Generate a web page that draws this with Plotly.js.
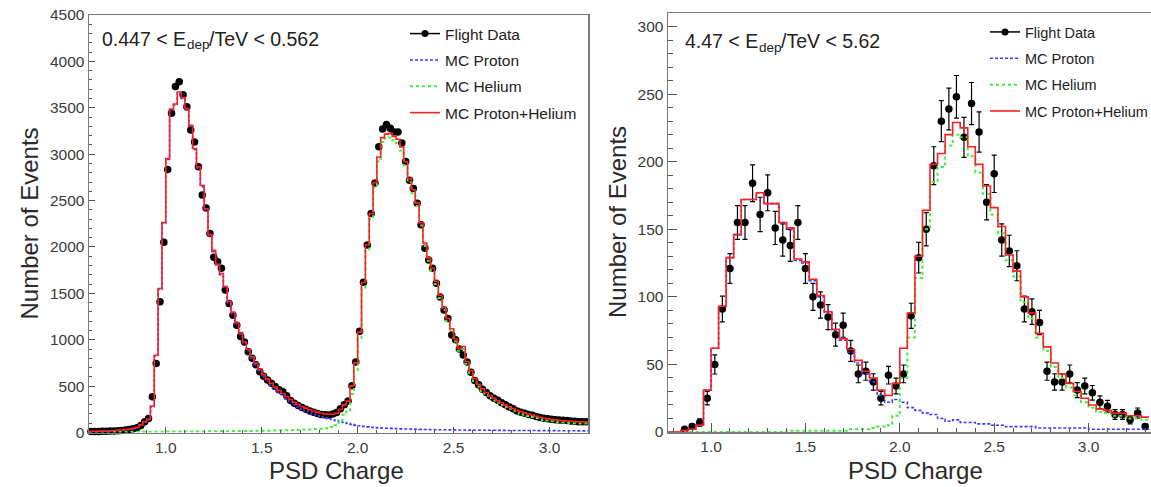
<!DOCTYPE html>
<html><head><meta charset="utf-8">
<script src="https://cdn.plot.ly/plotly-3.0.1.min.js"></script>
<style>html,body{margin:0;padding:0;overflow:hidden;background:#fff}#chart{width:1162px;height:487px}</style>
</head><body><div id="chart"></div>
<script>
// ---------- data ----------
const leftBinStart = 0.60, leftBinWidth = 0.02;
const leftFlightData = [10,11,12,13,14,15,17,19,22,26,
 32,40,52,75,116,150,386,745,1410,2050,
 2836,3440,3730,3780,3640,3510,3260,3130,2865,2560,
 2420,2145,1890,1840,1770,1535,1390,1265,1155,1035,
 975,870,800,730,655,605,565,530,495,460,
 440,395,345,315,290,270,250,232,218,205,
 195,190,188,200,215,255,300,340,505,760,
 1090,1620,2020,2360,2690,3080,3270,3320,3280,3240,
 3240,3120,2920,2720,2630,2470,2240,1985,1860,1770,
 1610,1460,1320,1230,1050,1000,900,835,760,650,
 560,515,465,430,395,370,348,320,298,275,
 255,232,218,207,195,185,173,163,154,147,
 142,138,135,133,128,124,120,117,116,115];
const leftMcProton = [9,10,11,12,13,14,16,18,21,25,
 30,38,50,75,110,135,278,824,1543,2254,
 2944,3475,3530,3660,3600,3480,3300,3050,2850,2650,
 2400,2120,1950,1800,1700,1560,1400,1280,1170,1060,
 960,880,800,730,665,605,555,510,470,432,
 398,362,330,300,275,252,232,213,197,183,
 170,158,148,138,128,118,108,98,88,80,
 72,66,61,57,53,50,48,46,44,42,
 40,39,38,37,36,35,34,33,32,31,
 30,30,29,29,28,28,27,27,26,26,
 25,25,25,24,24,24,23,23,23,22,
 22,22,22,21,21,21,21,20,20,20,
 20,20,19,19,19,19,19,18,18,18];
const leftMcHelium = [3,3,4,4,4,5,5,5,6,6,
 6,7,7,7,8,8,8,9,9,9,
 10,10,10,10,11,11,11,11,12,12,
 12,13,13,13,14,14,14,15,15,16,
 16,17,17,18,18,19,20,20,21,22,
 23,24,25,26,28,29,31,33,35,37,
 40,43,48,58,78,130,190,240,415,670,
 1010,1550,1960,2300,2640,2920,3130,3170,3180,3150,
 3120,3040,2880,2700,2580,2440,2230,2010,1850,1740,
 1600,1450,1320,1200,1090,980,880,900,740,640,
 555,495,445,405,372,345,320,297,275,255,
 236,218,203,190,178,166,155,145,136,128,
 121,116,112,108,105,102,100,98,97,96];

const rightBinStart = 0.76, rightBinWidth = 0.04;
const rightFlightData = [null,null,2,4,7,25,50,91,121,155,155,
 184,161,177,151,142,138,155,121,100,94,
 85,72,79,60,43,45,37,25,42,34,
 43,86,129,150,197,230,239,248,218,243,
 222,170,191,142,134,123,91,89,81,45,
 37,37,43,31,34,29,22,19,13,13,
 9,14,4];
const rightMcProton = [0,0,1,2,5,31,62,93,129,146,172,
 172,177,169,169,155,150,127,125,112,100,
 88,75,68,59,51,43,37,27,22,24,
 22,18,16,14,13,10,8,9,7,7,
 6,6,5,5,4,4,4,4,3,3,
 3,3,3,3,3,2,2,2,2,2,
 2,2,2];
const rightMcHelium = [0,0,0,0,0,0,0,0,0,0,0,
 0,0,0,0,0,1,1,1,1,1,
 1,1,1,2,2,2,3,4,5,12,
 40,70,114,150,185,196,212,220,218,204,
 192,176,161,147,127,115,96,84,70,60,
 48,40,33,27,22,18,15,14,12,12,
 10,10,9];

// energy-range labels: [text before subscript, subscript, text after subscript]
const leftLabelParts = ['0.447 < E', 'dep', '/TeV < 0.562'];
const rightLabelParts = ['4.47 < E', 'dep', '/TeV < 5.62'];
const legendNames = ['Flight Data', 'MC Proton', 'MC Helium', 'MC Proton+Helium'];
const xTitleText = 'PSD Charge';
const yTitleText = 'Number of Events';
const leftXRange = [0.6, 3.2], leftYRange = [0, 4500];
const rightXRange = [0.772, 3.389], rightYRange = [0, 310];

// ---------- helpers ----------
function binCenters(start, w, n) { const c = []; for (let i = 0; i < n; i++) c.push(+(start + w * (i + 0.5)).toFixed(4)); return c; }
function binEdges(start, w, n) { const e = []; for (let i = 0; i <= n; i++) e.push(+(start + w * i).toFixed(4)); return e; }
function stepVals(v) { return v.concat([v[v.length - 1]]); }
function sum(a, b) { return a.map((v, i) => v + b[i]); }

const FONT = 'Liberation Sans, Arial, Helvetica, sans-serif';
const W = 1162, H = 487;
const RED = '#ff1f1f', BLUE = '#3a3aff', GREEN = '#3cf03c';

function panelTraces(start, w, data, prot, hel, xa, ya, legendId, withErr, msize) {
  const n = data.length;
  const xc = binCenters(start, w, n);
  const xe = binEdges(start, w, n);
  const total = sum(prot, hel);
  const tr = [];
  tr.push({x: [null], y: [null], xaxis: xa, yaxis: ya, type: 'scatter', mode: 'lines+markers',
    name: legendNames[0], legend: legendId, legendgroup: legendId + 'a',
    line: {color: '#000', width: 1.5}, marker: {color: '#000', size: 7}});
  const d = {x: xc, y: data, xaxis: xa, yaxis: ya, type: 'scatter', mode: 'markers', showlegend: false,
    cliponaxis: false, marker: {color: '#000', size: msize}};
  if (withErr) d.error_y = {type: 'data', array: data.map(v => v == null ? null : Math.sqrt(v)), color: '#000', thickness: 1.2, width: 2.5};
  tr.push(d);
  tr.push({x: xe, y: stepVals(prot), xaxis: xa, yaxis: ya, type: 'scatter', mode: 'lines', name: legendNames[1],
    legend: legendId, legendgroup: legendId + 'b', line: {color: BLUE, width: 1.6, dash: '3px,2px', shape: 'hv'}});
  tr.push({x: xe, y: stepVals(hel), xaxis: xa, yaxis: ya, type: 'scatter', mode: 'lines', name: legendNames[2],
    legend: legendId, legendgroup: legendId + 'c', line: {color: GREEN, width: 2, dash: '3px,3px', shape: 'hv'}});
  tr.push({x: xe, y: stepVals(total), xaxis: xa, yaxis: ya, type: 'scatter', mode: 'lines', name: legendNames[3],
    legend: legendId, legendgroup: legendId + 'd', line: {color: RED, width: 1.6, shape: 'hv'}});
  return tr;
}

const traces = [].concat(
  panelTraces(leftBinStart, leftBinWidth, leftFlightData, leftMcProton, leftMcHelium, 'x', 'y', 'legend', false, 7.5),
  panelTraces(rightBinStart, rightBinWidth, rightFlightData, rightMcProton, rightMcHelium, 'x2', 'y2', 'legend2', true, 7.5)
);

function axisStyle(extra) {
  return Object.assign({
    showline: true, mirror: true, linecolor: '#7a7a7a', linewidth: 1.5,
    ticks: 'inside', tickcolor: '#555', tickwidth: 1, showgrid: false, zeroline: false,
    tickfont: {family: FONT, size: 15.5, color: '#3a3a3a'}, fixedrange: true
  }, extra);
}
const px = v => v / W, py = v => (H - v) / H;

// text measurement for composing the subscripted label
const mctx = document.createElement('canvas').getContext('2d');
function textWidth(t, size) { mctx.font = size + 'px "Liberation Sans", Arial, sans-serif'; return mctx.measureText(t).width; }
const LBL = 19.5, SUB = 13.5;
function rangeLabel(parts, x0, yc) {
  const w0 = textWidth(parts[0], LBL), w1 = textWidth(parts[1], SUB);
  const base = {xref: 'paper', yref: 'paper', xanchor: 'left', yanchor: 'middle', showarrow: false, borderpad: 0};
  return [
    Object.assign({text: parts[0], x: px(x0), y: py(yc), font: {family: FONT, size: LBL, color: '#222'}}, base),
    Object.assign({text: parts[1], x: px(x0 + w0 + 0.5), y: py(yc + 6), font: {family: FONT, size: SUB, color: '#222'}}, base),
    Object.assign({text: parts[2], x: px(x0 + w0 + w1 + 0.5), y: py(yc), font: {family: FONT, size: LBL, color: '#222'}}, base)
  ];
}

const legendBase = {xanchor: 'left', yanchor: 'top', bgcolor: 'rgba(0,0,0,0)', borderwidth: 0,
  traceorder: 'grouped', itemwidth: 30};

const titleFont = {family: FONT, size: 24, color: '#2a2a2a'};
const layout = {
  width: W, height: H, margin: {l: 0, r: 0, t: 0, b: 0}, paper_bgcolor: '#fff', plot_bgcolor: '#fff',
  showlegend: true, hovermode: false,
  xaxis: axisStyle({domain: [px(89), px(588)], range: leftXRange, anchor: 'y', dtick: 0.5, tick0: 0, tickformat: '.1f', ticklen: 6,
    minor: {dtick: 0.1, ticks: 'inside', ticklen: 3, tickcolor: '#555'}}),
  yaxis: axisStyle({domain: [py(432.5), py(15)], range: leftYRange, anchor: 'x', dtick: 500, tick0: 0, ticklen: 6,
    minor: {dtick: 100, ticks: 'inside', ticklen: 3, tickcolor: '#555'}}),
  xaxis2: axisStyle({domain: [px(668), 1], range: rightXRange, anchor: 'y2', dtick: 0.5, tick0: 0, tickformat: '.1f', ticklen: 9,
    minor: {dtick: 0.1, ticks: 'inside', ticklen: 4.5, tickcolor: '#555'}}),
  yaxis2: axisStyle({domain: [py(432), py(13)], range: rightYRange, anchor: 'x2', dtick: 50, tick0: 0, ticklen: 9,
    minor: {dtick: 10, ticks: 'inside', ticklen: 4.5, tickcolor: '#555'}}),
  legend: Object.assign({x: px(405), y: py(17), tracegroupgap: 3.2,
    font: {family: FONT, size: 15.5, color: '#222'}}, legendBase),
  legend2: Object.assign({x: px(985), y: py(16), tracegroupgap: 4.5,
    font: {family: FONT, size: 14.5, color: '#222'}}, legendBase),
  annotations: [].concat(
    rangeLabel(leftLabelParts, 101, 39),
    rangeLabel(rightLabelParts, 684, 41),
    [
      {text: yTitleText, xref: 'paper', yref: 'paper', x: px(28.5), y: py(224), xanchor: 'center', yanchor: 'middle', textangle: -90, showarrow: false, font: titleFont},
      {text: yTitleText, xref: 'paper', yref: 'paper', x: px(617), y: py(222), xanchor: 'center', yanchor: 'middle', textangle: -90, showarrow: false, font: titleFont},
      {text: xTitleText, xref: 'paper', yref: 'paper', x: px(337), y: py(470), xanchor: 'center', yanchor: 'middle', showarrow: false, font: titleFont},
      {text: xTitleText, xref: 'paper', yref: 'paper', x: px(915), y: py(470), xanchor: 'center', yanchor: 'middle', showarrow: false, font: titleFont}
    ])
};

Plotly.newPlot('chart', traces, layout, {staticPlot: true, displayModeBar: false});
</script>
</body></html>
